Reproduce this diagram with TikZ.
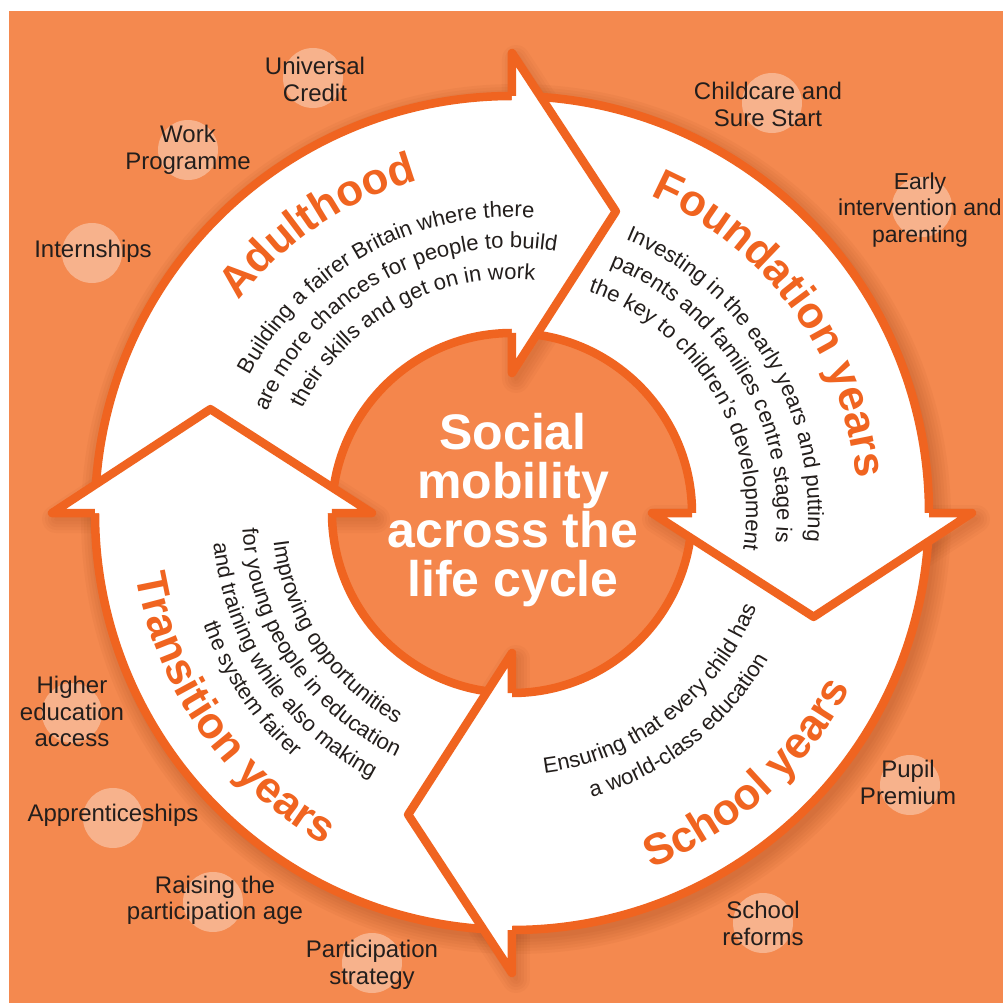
\documentclass[tikz,border=0pt]{standalone}
\usepackage{fontspec}
\setmainfont{Liberation Sans}
\usetikzlibrary{decorations.text}
\definecolor{bgor}{RGB}{244,137,79}
\definecolor{ringor}{RGB}{240,100,32}
\definecolor{discc}{RGB}{244,134,76}
\definecolor{discdark}{RGB}{220,104,52}
\definecolor{shadowc}{RGB}{140,55,15}
\definecolor{labelc}{RGB}{35,30,28}
\pgfdeclareradialshading{discshade}{\pgfpointorigin}{color(0bp)=(discc); color(38bp)=(discc); color(50bp)=(discdark)}
\newcommand\descfont{\fontsize{22}{24}\selectfont\color{labelc}}
\newcommand\ttlfont{\fontsize{44}{48}\selectfont\bfseries\color{ringor}}
\newcommand\toparc[4]{%
  \path[decorate,decoration={text along path,text align=center,text format delimiters={|}{|},text={|#3|#4}}]
    ({#1+85}:#2) arc[start angle={#1+85}, end angle={#1-85}, radius=#2];}
\newcommand\botarc[4]{%
  \path[decorate,decoration={text along path,text align=center,text format delimiters={|}{|},text={|#3|#4}}]
    ({#1-85}:#2) arc[start angle={#1-85}, end angle={#1+85}, radius=#2];}
\tikzset{
  ringline/.style={draw=ringor, line width=8.5pt, line join=round},
  lbl/.style={font=\fontsize{24}{26.5}\selectfont, text=labelc, align=center, inner sep=0pt},
  dot/.style={circle, fill=white, fill opacity=0.35, minimum size=60pt, inner sep=0pt, draw=none},
}
\begin{document}
\begin{tikzpicture}[x=1pt,y=1pt]
\useasboundingbox (-512,-494) rectangle (493,513);
\fill[white] (-512,-494) rectangle (493,513);
\fill[bgor] (-503,-490) rectangle (491,502);

% label discs
\node[dot] (d1) at (-199,435) {};
\node[dot] (d2) at (-324,363) {};
\node[dot] (d3) at (-420,260) {};
\node[dot] (d4) at (260,410) {};
\node[dot] (d5) at (410,306) {};
\node[dot] (d6) at (-440,-200) {};
\node[dot] (d7) at (-399,-305) {};
\node[dot] (d8) at (-299,-389) {};
\node[dot] (d9) at (-140,-450) {};
\node[dot] (d10) at (398,-272) {};
\node[dot] (d11) at (251,-410) {};

% central disc
\shade[shading=discshade] (0,0) circle (180);

% shadows
\begin{scope}[shift={(4,-6)}]
  \foreach \w in {6,12,...,36}{\draw[shadowc, opacity=0.05, line width=\w] (0,0) circle (417);}
  \foreach \H in {90,0,-90,-180}{
    \foreach \w in {4,10,...,28}{\draw[shadowc, opacity=0.045, line width=\w, line join=round] (\H:460) -- ({\H-19}:319) -- (\H:140) -- cycle;}
  }
\end{scope}

% white ring
\fill[white, even odd rule] (0,0) circle (417) (0,0) circle (180);
\draw[ringline] (0,0) circle (417);
\draw[ringline] (0,0) circle (180);
% arrow heads
\foreach \H in {90,0,-90,-180}{
  \fill[white] (\H:460) -- ({\H-19}:319) -- (\H:140) -- cycle;
}
\foreach \H in {90,0,-90,-180}{
  \draw[ringline] (\H:180) -- (\H:140) -- ({\H-19}:319) -- (\H:460) -- (\H:417);
}

% titles
\toparc{124}{346}{\ttlfont}{Adulthood}
\toparc{36}{346}{\ttlfont}{Foundation years}
\botarc{-48}{381}{\ttlfont}{School years}
\botarc{215}{381}{\ttlfont}{Transition years}

% descriptions
\toparc{119}{296}{\descfont}{Building a fairer Britain where there}
\toparc{119}{265}{\descfont}{are more chances for people to build}
\toparc{119}{234}{\descfont}{their skills and get on in work}
\toparc{31}{296}{\descfont}{Investing in the early years and putting}
\toparc{31}{265}{\descfont}{parents and families centre stage is}
\toparc{31}{234}{\descfont}{the key to children’s development}
\botarc{-52}{262}{\descfont}{Ensuring that every child has}
\botarc{-52}{295}{\descfont}{a world-class education}
\botarc{214}{240}{\descfont}{Improving opportunities}
\botarc{214}{270}{\descfont}{for young people in education}
\botarc{214}{300}{\descfont}{and training while also making}
\botarc{214}{328}{\descfont}{the system fairer}

% centre title
\node[font=\fontsize{50}{49}\selectfont\bfseries, text=white, align=center, inner sep=0pt] (title) at (1,2.5) {Social\\mobility\\across the\\life cycle};

% labels
\node[lbl] (l1) at (-197,433.5) {Universal\\Credit};
\node[lbl] (l2) at (-324,363) {Work\\Programme};
\node[lbl] (l3) at (-419,262) {Internships};
\node[lbl] (l4) at (256,408.5) {Childcare and\\Sure Start};
\node[lbl, font=\fontsize{23}{26.5}\selectfont] (l5) at (408,303) {Early\\intervention and\\parenting};
\node[lbl] (l6) at (-440,-198.5) {Higher\\education\\access};
\node[lbl] (l7) at (-399,-302) {Apprenticeships};
\node[lbl] (l8) at (-297,-387.5) {Raising the\\participation age};
\node[lbl] (l9) at (-140,-452) {Participation\\strategy};
\node[lbl] (l10) at (396,-269.5) {Pupil\\Premium};
\node[lbl] (l11) at (251,-410.5) {School\\reforms};
\end{tikzpicture}
\end{document}
